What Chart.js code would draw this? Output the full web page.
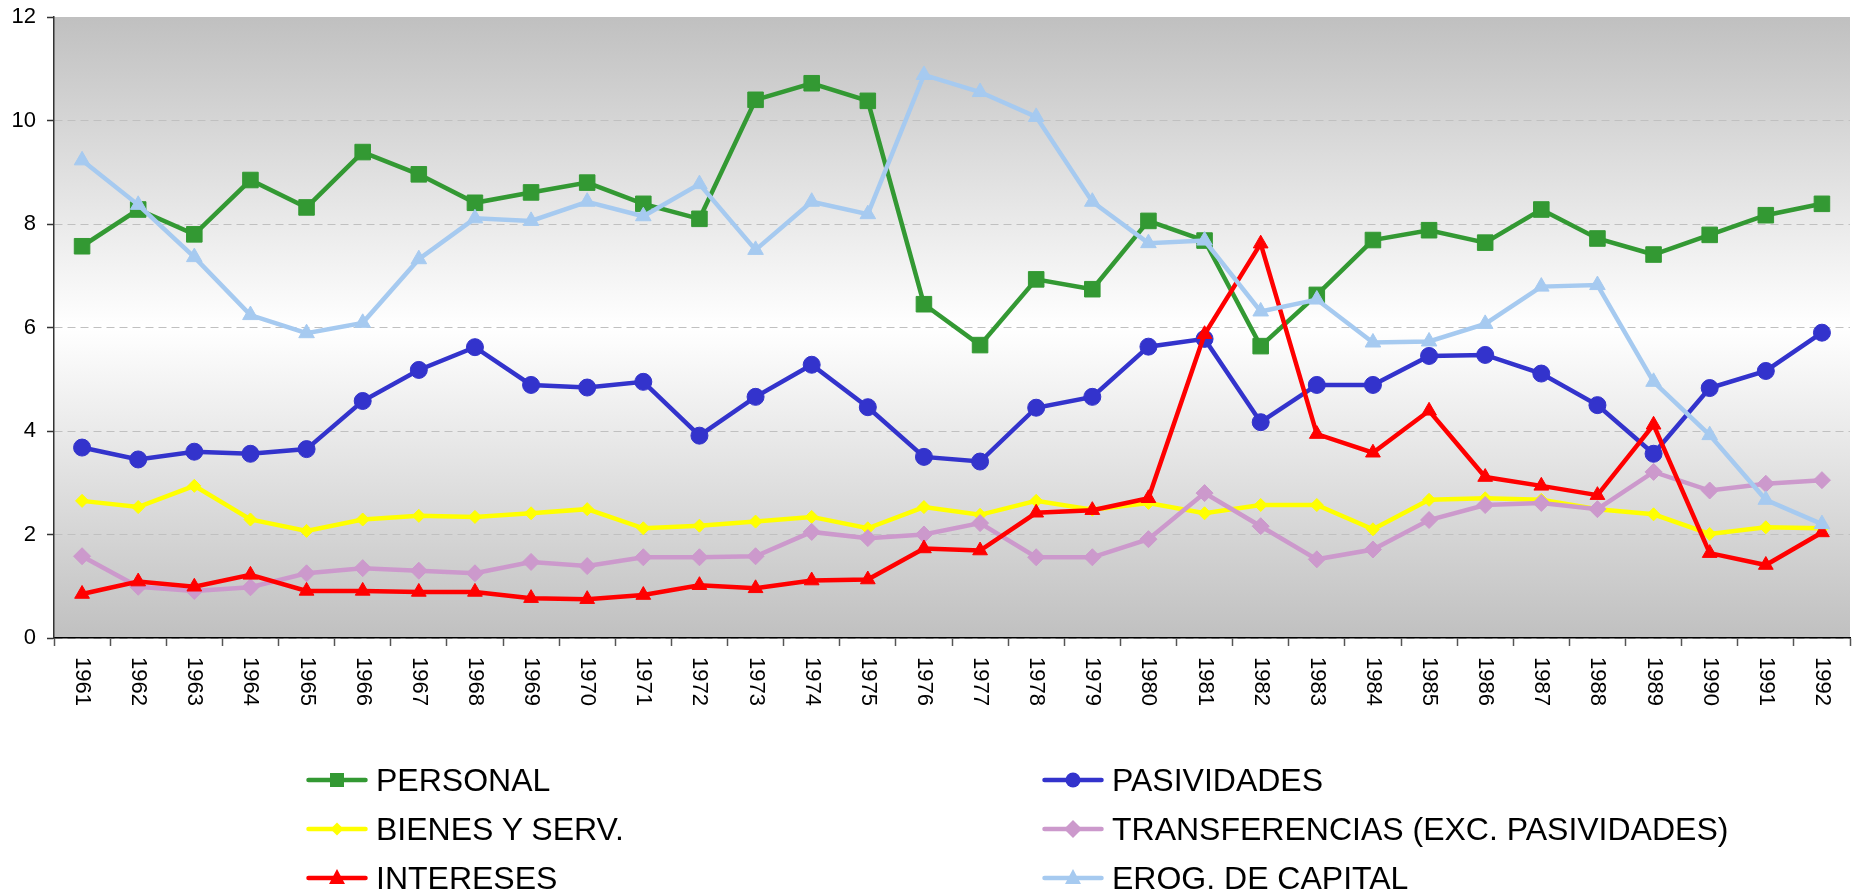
<!DOCTYPE html>
<html>
<head>
<meta charset="utf-8">
<script src="https://cdn.jsdelivr.net/npm/chart.js@4.4.0/dist/chart.umd.min.js"></script>
<style>
  html, body { margin: 0; padding: 0; background: #fff; }
  #wrap { position: relative; width: 1852px; height: 894px; }
  #legend { position: absolute; left: 0; top: 0; width: 100%; height: 100%; pointer-events: none;
            font-family: "Liberation Sans", Arial, sans-serif; font-size: 32px; color: #000; }
  .item { position: absolute; display: flex; align-items: center; height: 40px; white-space: nowrap; }
  .item svg { margin-right: 8px; flex: none; }
</style>
</head>
<body>
<div id="wrap">
  <canvas id="myChart" width="1852" height="894"></canvas>
  <div id="legend"></div>
</div>
<script>
// data
const years = ['1961','1962','1963','1964','1965','1966','1967','1968','1969','1970','1971','1972',
  '1973','1974','1975','1976','1977','1978','1979','1980','1981','1982','1983','1984','1985','1986',
  '1987','1988','1989','1990','1991','1992'];

const personal = [7.57, 8.28, 7.80, 8.85, 8.32, 9.39, 8.96, 8.41, 8.61, 8.80, 8.39, 8.10, 10.40, 10.72,
  10.38, 6.45, 5.66, 6.93, 6.74, 8.06, 7.68, 5.64, 6.63, 7.69, 7.88, 7.64, 8.28, 7.72, 7.41, 7.79, 8.17, 8.39];
const pasividades = [3.68, 3.45, 3.60, 3.56, 3.65, 4.58, 5.18, 5.62, 4.89, 4.84, 4.95, 3.91, 4.66, 5.28,
  4.46, 3.50, 3.41, 4.45, 4.66, 5.63, 5.78, 4.17, 4.89, 4.89, 5.45, 5.47, 5.11, 4.50, 3.56, 4.83, 5.16, 5.90];
const bienes = [2.65, 2.53, 2.94, 2.29, 2.07, 2.29, 2.36, 2.34, 2.41, 2.49, 2.12, 2.17, 2.25, 2.34,
  2.12, 2.53, 2.38, 2.65, 2.48, 2.61, 2.41, 2.57, 2.57, 2.10, 2.67, 2.70, 2.67, 2.49, 2.39, 2.01, 2.14, 2.12];
const transferencias = [1.58, 0.99, 0.91, 0.98, 1.25, 1.35, 1.30, 1.25, 1.47, 1.39, 1.56, 1.56, 1.58, 2.05,
  1.93, 2.00, 2.22, 1.56, 1.56, 1.91, 2.80, 2.16, 1.52, 1.71, 2.28, 2.57, 2.61, 2.49, 3.21, 2.85, 2.98, 3.05];
const intereses = [0.85, 1.09, 0.99, 1.22, 0.91, 0.91, 0.89, 0.89, 0.77, 0.75, 0.83, 1.02, 0.96, 1.11,
  1.13, 1.73, 1.69, 2.42, 2.47, 2.70, 5.87, 7.62, 3.94, 3.58, 4.39, 3.11, 2.94, 2.76, 4.12, 1.64, 1.41, 2.04];
const erogCapital = [9.23, 8.37, 7.36, 6.24, 5.89, 6.09, 7.32, 8.11, 8.06, 8.43, 8.15, 8.77, 7.50, 8.43,
  8.19, 10.88, 10.55, 10.07, 8.43, 7.63, 7.68, 6.31, 6.54, 5.71, 5.73, 6.07, 6.79, 6.82, 4.95, 3.92, 2.67, 2.20];

const yTicks = [0, 2, 4, 6, 8, 10, 12];

const FONT = '"Liberation Sans", Arial, sans-serif';

// helpers
const series = (label, data, color, pointStyle, radius, order) => ({
  label, data, order, pointStyle,
  borderColor: color,
  backgroundColor: color,
  pointBackgroundColor: color,
  pointBorderColor: color,
  pointBorderWidth: 1,
  pointRadius: radius,
  borderWidth: 4.5,
  tension: 0
});

// gradient behind the plot
const bgPlugin = {
  id: 'bg',
  beforeDraw(chart) {
    const { ctx, chartArea: a } = chart;
    const g = ctx.createLinearGradient(0, a.top, 0, a.bottom);
    g.addColorStop(0, '#c0c0c0');
    g.addColorStop(0.5, '#ffffff');
    g.addColorStop(1, '#c0c0c0');
    ctx.save();
    ctx.fillStyle = g;
    ctx.fillRect(a.left, a.top, a.right - a.left, a.bottom - a.top);
    ctx.restore();
  }
};

// x labels turned clockwise (reading top to bottom)
const xLabelPlugin = {
  id: 'xLabels',
  afterDraw(chart) {
    const { ctx } = chart;
    const x = chart.scales.x;
    ctx.save();
    ctx.font = '22px ' + FONT;
    ctx.fillStyle = '#000';
    ctx.textAlign = 'left';
    ctx.textBaseline = 'middle';
    x.ticks.forEach((t, i) => {
      ctx.save();
      ctx.translate(x.getPixelForTick(i), x.top + 19);
      ctx.rotate(Math.PI / 2);
      ctx.fillText(x.getLabelForValue(t.value), 0, 0);
      ctx.restore();
    });
    ctx.restore();
  }
};

const ctx = document.getElementById('myChart').getContext('2d');

const chart = new Chart(ctx, {
  type: 'line',
  data: {
    labels: years,
    datasets: [
      series('PERSONAL', personal, '#339933', 'rect', 11, 5),
      series('PASIVIDADES', pasividades, '#3333cc', 'circle', 8.5, 4),
      series('BIENES Y SERV.', bienes, '#ffff00', 'rectRot', 6.5, 3),
      series('TRANSFERENCIAS (EXC. PASIVIDADES)', transferencias, '#cc99cc', 'rectRot', 8.5, 2),
      series('INTERESES', intereses, '#ff0000', 'triangle', 8.5, 1),
      series('EROG. DE CAPITAL', erogCapital, '#a6caf0', 'triangle', 9, 0)
    ]
  },
  options: {
    responsive: false,
    animation: false,
    layout: { autoPadding: false, padding: { top: 17, right: 2, left: 0, bottom: 0 } },
    plugins: { legend: { display: false }, tooltip: { enabled: false } },
    scales: {
      x: {
        offset: true,
        grid: { offset: true, drawOnChartArea: false, drawTicks: true, tickLength: 8,
                tickColor: '#555', tickWidth: 1.5 },
        border: { color: '#000', width: 1.5 },
        ticks: { display: false },
        afterFit(s) { s.height = 256; }
      },
      y: {
        min: 0,
        max: 12,
        afterBuildTicks(s) { s.ticks = yTicks.map(v => ({ value: v })); },
        ticks: { font: { family: FONT, size: 22 }, color: '#000', padding: 11 },
        grid: { color: '#c0c0c0', lineWidth: 1, tickColor: '#333', tickLength: 7, tickWidth: 1.5 },
        border: { color: '#333', width: 1.5, dash: [8, 5] },
        afterFit(s) {
          s.width = 54;
          s.paddingTop = 0;
          s.paddingBottom = 0;
        }
      }
    }
  },
  plugins: [bgPlugin, xLabelPlugin]
});

// legend, two columns
const legendPos = [
  [306, 780], [1042, 780],
  [306, 829], [1042, 829],
  [306, 878], [1042, 878]
];

const markerSvg = (style, color) => {
  let shape = '';
  if (style === 'rect') shape = `<rect x="24" y="3" width="14" height="14" fill="${color}"/>`;
  else if (style === 'circle') shape = `<circle cx="31" cy="10" r="7.5" fill="${color}"/>`;
  else if (style === 'rectRot') {
    const r = color === '#ffff00' ? 6.5 : 9;
    shape = `<polygon points="31,${10 - r} ${31 + r},10 31,${10 + r} ${31 - r},10" fill="${color}"/>`;
  } else {
    shape = `<polygon points="31,1 39,16 23,16" fill="${color}"/>`;
  }
  return `<svg width="62" height="20" viewBox="0 0 62 20">
    <line x1="2.5" y1="10" x2="59.5" y2="10" stroke="${color}" stroke-width="4.5" stroke-linecap="round"/>
    ${shape}</svg>`;
};

const legendEl = document.getElementById('legend');
chart.data.datasets.forEach((ds, i) => {
  const [lx, ly] = legendPos[i];
  const div = document.createElement('div');
  div.className = 'item';
  div.style.left = lx + 'px';
  div.style.top = (ly - 20) + 'px';
  div.innerHTML = markerSvg(ds.pointStyle, ds.borderColor) + '<span>' + ds.label + '</span>';
  legendEl.appendChild(div);
});
</script>
</body>
</html>
